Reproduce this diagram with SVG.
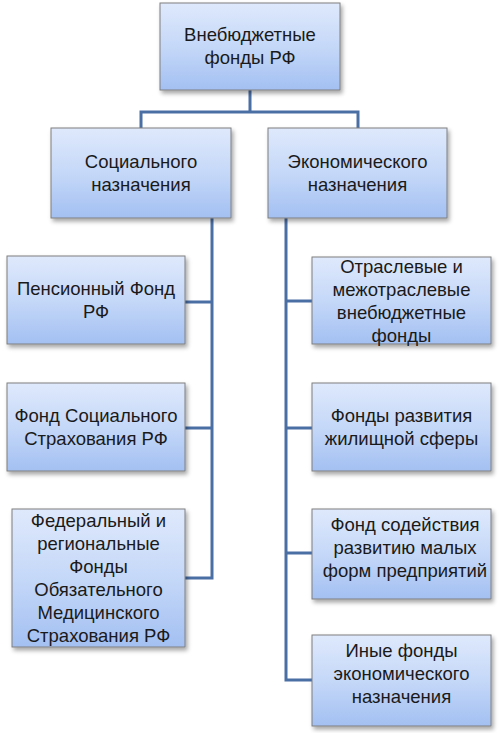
<svg xmlns="http://www.w3.org/2000/svg" width="500" height="733" viewBox="0 0 500 733">
<defs>
<linearGradient id="g" x1="0" y1="0" x2="0" y2="1">
<stop offset="0" stop-color="#dfe9fc"/>
<stop offset="0.5" stop-color="#c5d8f8"/>
<stop offset="1" stop-color="#a3c0f2"/>
</linearGradient>
<filter id="sh" x="-10%" y="-10%" width="125%" height="130%">
<feDropShadow dx="2" dy="3" stdDeviation="2" flood-color="#000" flood-opacity="0.35"/>
</filter>
</defs>
<style>
.box{fill:url(#g);stroke:#7f7f7f;stroke-width:1;filter:url(#sh)}
.t{font-family:"Liberation Sans",Arial,sans-serif;font-size:18.5px;fill:#1a1a1a;text-anchor:middle}
.c{fill:none;stroke:#4a6fa5;stroke-width:3}
</style>
<rect width="500" height="733" fill="#fff"/>
<g id="connectors">
<path class="c" d="M250 90 V112 M141 130 V112 H358 V130"/>
<path class="c" d="M212 218 V578 H185 M212 302 H185 M212 428 H185"/>
<path class="c" d="M286 218 V680 H312 M286 301 H312 M286 428 H312 M286 553 H312"/>
</g>
<g id="root">
<rect class="box" x="160" y="3" width="180" height="87"/>
<text class="t" x="250" y="41">Внебюджетные</text>
<text class="t" x="250" y="64">фонды РФ</text>
</g>
<g id="social">
<rect class="box" x="51" y="128" width="180" height="90"/>
<text class="t" x="141" y="168">Социального</text>
<text class="t" x="141" y="191">назначения</text>
</g>
<g id="economic">
<rect class="box" x="268" y="128" width="179" height="90"/>
<text class="t" x="357.5" y="168">Экономического</text>
<text class="t" x="357.5" y="191">назначения</text>
</g>
<g id="pension">
<rect class="box" x="7" y="256" width="178" height="88"/>
<text class="t" x="96" y="295">Пенсионный Фонд</text>
<text class="t" x="96" y="318">РФ</text>
</g>
<g id="fss">
<rect class="box" x="7" y="383" width="178" height="88"/>
<text class="t" x="96" y="422">Фонд Социального</text>
<text class="t" x="96" y="445">Страхования РФ</text>
</g>
<g id="foms">
<rect class="box" x="12" y="509" width="173" height="138"/>
<text class="t" x="98.5" y="527">Федеральный и</text>
<text class="t" x="98.5" y="550">региональные</text>
<text class="t" x="98.5" y="573">Фонды</text>
<text class="t" x="98.5" y="596">Обязательного</text>
<text class="t" x="98.5" y="619">Медицинского</text>
<text class="t" x="98.5" y="642">Страхования РФ</text>
</g>
<g id="sectoral">
<rect class="box" x="312" y="257" width="179" height="87"/>
<text class="t" x="401.5" y="273">Отраслевые и</text>
<text class="t" x="401.5" y="296">межотраслевые</text>
<text class="t" x="401.5" y="319">внебюджетные</text>
<text class="t" x="401.5" y="342">фонды</text>
</g>
<g id="housing">
<rect class="box" x="312" y="383" width="179" height="88"/>
<text class="t" x="401.5" y="422">Фонды развития</text>
<text class="t" x="401.5" y="445">жилищной сферы</text>
</g>
<g id="smallbiz">
<rect class="box" x="312" y="509" width="179" height="90"/>
<text class="t" x="405" y="531">Фонд содействия</text>
<text class="t" x="405" y="554">развитию малых</text>
<text class="t" x="405" y="577">форм предприятий</text>
</g>
<g id="other">
<rect class="box" x="312" y="635" width="179" height="91"/>
<text class="t" x="401.5" y="657">Иные фонды</text>
<text class="t" x="401.5" y="680">экономического</text>
<text class="t" x="401.5" y="703">назначения</text>
</g>
</svg>
